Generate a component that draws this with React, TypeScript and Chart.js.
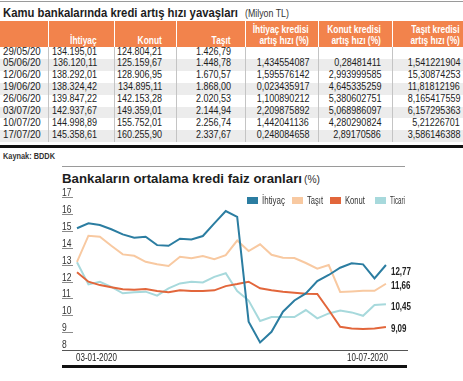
import React, { useEffect, useRef } from "react";
import { Chart, registerables } from "chart.js";
Chart.register(...registerables);

if (typeof document !== "undefined") {
  document.body.style.margin = "0";
}

const FONT = '"Liberation Sans", Arial, sans-serif';

// ---------- Table data ----------
const tableTitle = "Kamu bankalarında kredi artış hızı yavaşları";
const tableUnit = "(Milyon TL)";
const tableHeaders = [
  [""],
  ["İhtiyaç"],
  ["Konut"],
  ["Taşıt"],
  ["İhtiyaç kredisi", "artış hızı (%)"],
  ["Konut kredisi", "artış hızı (%)"],
  ["Taşıt kredisi", "artış hızı (%)"],
];
const tableDates = ["29/05/20", "05/06/20", "12/06/20", "19/06/20", "26/06/20", "03/07/20", "10/07/20", "17/07/20"];
const ihtiyacStock = ["134.195,01", "136.120,11", "138.292,01", "138.324,42", "139.847,22", "142.937,67", "144.998,89", "145.358,61"];
const konutStock = ["124.804,21", "125.159,67", "128.906,95", "134.895,11", "142.153,28", "149.359,01", "155.752,01", "160.255,90"];
const tasitStock = ["1.426,79", "1.448,78", "1.670,57", "1.868,00", "2.020,53", "2.144,94", "2.256,74", "2.337,67"];
const ihtiyacGrowth = ["", "1,434554087", "1,595576142", "0,023435917", "1,100890212", "2,209875892", "1,442041136", "0,248084658"];
const konutGrowth = ["", "0,28481411", "2,993999585", "4,645335259", "5,380602751", "5,068986097", "4,280290824", "2,89170586"];
const tasitGrowth = ["", "1,541221904", "15,30874253", "11,81812196", "8,165417559", "6,157295363", "5,21226701", "3,586146388"];
const sourceText = "Kaynak: BDDK";

// ---------- Chart data ----------
const chartTitle = "Bankaların ortalama kredi faiz oranları";
const chartUnit = "(%)";
const weeks = [
  "03-01-2020", "10-01-2020", "17-01-2020", "24-01-2020", "31-01-2020", "07-02-2020", "14-02-2020",
  "21-02-2020", "28-02-2020", "06-03-2020", "13-03-2020", "20-03-2020", "27-03-2020", "03-04-2020",
  "10-04-2020", "17-04-2020", "24-04-2020", "01-05-2020", "08-05-2020", "15-05-2020", "22-05-2020",
  "29-05-2020", "05-06-2020", "12-06-2020", "19-06-2020", "26-06-2020", "03-07-2020", "10-07-2020",
];
const ihtiyacRate = [14.95, 15.24, 15.14, 14.89, 14.59, 14.39, 14.45, 13.95, 13.91, 14.33, 14.29, 14.49, 15.24, 15.97, 15.63, 9.41, 8.18, 8.81, 10.0, 10.67, 11.09, 11.82, 12.18, 12.61, 12.87, 12.81, 11.98, 12.77];
const tasitRate = [12.96, 14.51, 14.45, 13.91, 13.4, 13.32, 12.96, 12.81, 12.71, 13.26, 13.17, 13.3, 13.12, 13.36, 14.22, 13.6, 14.0, 13.38, 13.2, 13.18, 12.89, 12.55, 12.77, 11.17, 11.2, 11.24, 11.24, 11.66];
const konutRate = [12.34, 11.78, 11.58, 11.45, 11.33, 11.3, 11.35, 11.23, 11.15, 11.27, 11.23, 11.23, 11.27, 11.52, 11.64, 11.78, 11.39, 11.27, 11.19, 11.13, 11.07, 11.05, 10.1, 9.11, 9.01, 8.97, 9.01, 9.09];
const ticariRate = [12.93, 11.62, 11.78, 11.48, 11.09, 11.15, 11.19, 10.95, 11.39, 11.68, 11.78, 11.74, 12.07, 12.28, 11.23, 10.66, 9.45, 9.68, 9.68, 9.68, 10.1, 9.61, 9.9, 10.07, 9.96, 9.76, 10.4, 10.45];
const seriesNames = ["İhtiyaç", "Taşıt", "Konut", "Ticari"];
const seriesValues = [ihtiyacRate, tasitRate, konutRate, ticariRate];
const seriesColors = ["#2B7DA1", "#F8C9A1", "#E2663B", "#A7D9DC"];
const yTickValues = [8, 9, 10, 11, 12, 13, 14, 15, 16, 17];

// ---------- Layout constants ----------
const W = 463;
const COL_EDGES = [0, 48, 114, 176, 245, 318, 392, 463];
const COL_TEXT_RIGHT = [3, 97, 162, 231, 309, 381, 460];
const HEADER_TOP = 21;
const HEADER_H = 26;
const ROW_TOP = 47;
const ROW_H = 11.9;
const LABEL_SHIFT = 0.27;
const END_LABEL_DY = [7, 2.5, 2, 3];
const ORANGE = "#F2834C";
const LEGEND_LEFT = [247, 292, 330, 375];
const LEGEND_TEXT_W = [23, 16, 20, 15];

let measureCtx: CanvasRenderingContext2D | null = null;
function measure(text: string, size: number, bold: boolean) {
  if (!measureCtx) measureCtx = document.createElement("canvas").getContext("2d");
  measureCtx!.font = `${bold ? "bold " : ""}${size}px ${FONT}`;
  return measureCtx!.measureText(text).width || 1;
}

type TxtProps = {
  text: string;
  x: number;
  base: number;
  size: number;
  bold?: boolean;
  align?: "left" | "right";
  width?: number;
  scale?: number;
  color?: string;
};
function Txt({ text, x, base, size, bold = false, align = "left", width, scale, color = "#1d1d1d" }: TxtProps) {
  if (!text) return null;
  const s = width ? width / measure(text, size, bold) : scale ?? 1;
  const style: any = {
    position: "absolute",
    top: base - 0.8465 * size,
    fontSize: size,
    lineHeight: size + "px",
    fontWeight: bold ? 700 : 400,
    color,
    whiteSpace: "nowrap",
    transform: `scaleX(${s})`,
    transformOrigin: align === "left" ? "left center" : "right center",
  };
  if (align === "left") style.left = x;
  else style.right = W - x;
  return <div style={style}>{text}</div>;
}

function drawScaled(ctx: CanvasRenderingContext2D, text: string, x: number, y: number, sx: number, align: "left" | "right") {
  ctx.save();
  ctx.translate(x, y);
  ctx.scale(sx, 1);
  ctx.textAlign = align;
  ctx.fillText(text, 0, 0);
  ctx.restore();
}

const overlayPlugin = {
  id: "overlay",
  afterDatasetsDraw(chart: any) {
    const ctx = chart.ctx as CanvasRenderingContext2D;
    const y = chart.scales.y;
    const x = chart.scales.x;
    const area = chart.chartArea;
    ctx.save();
    // y tick labels with short underlines
    ctx.font = `10px ${FONT}`;
    ctx.fillStyle = "#333";
    ctx.strokeStyle = "#8a8a8a";
    ctx.lineWidth = 1;
    ctx.textBaseline = "alphabetic";
    yTickValues.forEach((v) => {
      const py = Math.round(y.getPixelForValue(v - LABEL_SHIFT)) - 0.5;
      if (v !== yTickValues[0]) {
        ctx.beginPath();
        ctx.moveTo(area.left, py);
        ctx.lineTo(area.left + 11, py);
        ctx.stroke();
      }
      drawScaled(ctx, String(v), area.left, py - 1.5, 0.85, "left");
    });
    // x tick labels: first and last
    ctx.fillStyle = "#222";
    const first = 0;
    const last = weeks.length - 1;
    drawScaled(ctx, weeks[first], x.getPixelForValue(first) - 1, area.bottom + 10.5, 0.8, "left");
    drawScaled(ctx, weeks[last], x.getPixelForValue(last) + 2, area.bottom + 10.5, 0.8, "right");
    // end value labels
    ctx.font = `bold 10px ${FONT}`;
    ctx.fillStyle = "#222";
    ctx.textBaseline = "middle";
    chart.data.datasets.forEach((ds: any, i: number) => {
      const meta = chart.getDatasetMeta(i);
      const pt = meta.data[meta.data.length - 1];
      const val = ds.data[ds.data.length - 1].y;
      drawScaled(ctx, val.toFixed(2).replace(".", ","), pt.x + 5, pt.y + END_LABEL_DY[i], 0.8, "left");
    });
    ctx.restore();
  },
};

function ChartPart() {
  const ref = useRef<HTMLCanvasElement | null>(null);
  useEffect(() => {
    if (!ref.current) return;
    const chart = new Chart(ref.current, {
      type: "line",
      data: {
        datasets: seriesNames.map((name, si) => ({
          label: name,
          data: seriesValues[si].map((v, i) => ({ x: i, y: v })),
          borderColor: seriesColors[si],
          backgroundColor: seriesColors[si],
          borderWidth: 2,
          pointRadius: 0,
          tension: 0,
          fill: false,
        })),
      },
      options: {
        animation: false,
        responsive: false,
        devicePixelRatio: 1,
        layout: { padding: { left: 62, right: 56, top: 5, bottom: 0 } },
        plugins: { legend: { display: false }, tooltip: { enabled: false } },
        scales: {
          x: {
            type: "linear",
            min: -1.31,
            max: 28.84,
            grid: { display: false, drawTicks: false },
            border: { display: true, color: "#555", width: 1 },
            ticks: { display: false },
            afterFit: (scale: any) => {
              scale.height = 31;
            },
          },
          y: {
            display: false,
            min: 8 - LABEL_SHIFT,
            max: 8 - LABEL_SHIFT + 160 / 16.86,
          },
        },
      },
      plugins: [overlayPlugin],
    } as any);
    return () => chart.destroy();
  }, []);
  return (
    <canvas
      ref={ref}
      width={463}
      height={196}
      style={{ position: "absolute", left: 0, top: 185, width: 463, height: 196 }}
    />
  );
}

export default function App() {
  const rows = tableDates.map((d, i) => [d, ihtiyacStock[i], konutStock[i], tasitStock[i], ihtiyacGrowth[i], konutGrowth[i], tasitGrowth[i]]);
  return (
    <div style={{ position: "relative", width: W, height: 381, background: "#fff", overflow: "hidden", fontFamily: FONT, color: "#222" }}>
      {/* top rule */}
      <div style={{ position: "absolute", left: 0, top: 1, width: W, height: 1, background: "#9a9a9a" }} />
      <Txt text={tableTitle} x={3} base={17.5} size={13} bold width={235} />
      <Txt text={tableUnit} x={245} base={17.5} size={10} width={44} color="#333" />
      {/* header band */}
      <div style={{ position: "absolute", left: 0, top: HEADER_TOP, width: W, height: HEADER_H, background: ORANGE }} />
      {COL_EDGES.slice(1, -1).map((x, i) => (
        <div key={"hs" + i} style={{ position: "absolute", left: x, top: HEADER_TOP, width: 1, height: HEADER_H, background: "#fff" }} />
      ))}
      {tableHeaders.map((lines, ci) =>
        lines.map((t, li) => (
          <Txt
            key={"h" + ci + "-" + li}
            text={t}
            x={COL_TEXT_RIGHT[ci]}
            base={lines.length === 2 ? 33 + li * 11.5 : 44.5}
            size={10}
            bold
            align="right"
            scale={0.84}
            color="#fff"
          />
        ))
      )}
      {/* body rows */}
      {rows.map((r, ri) => (
        <div key={"rb" + ri} style={{ position: "absolute", left: 0, top: ROW_TOP + ri * ROW_H, width: W, height: ROW_H, background: ri % 2 === 1 ? "#ececec" : "#fff" }} />
      ))}
      {COL_EDGES.slice(1, -1).map((x, i) => (
        <div key={"bs" + i} style={{ position: "absolute", left: x, top: ROW_TOP, width: 1, height: ROW_H * rows.length, background: "#c4c4c4" }} />
      ))}
      {rows.map((r, ri) =>
        r.map((cell, ci) => (
          <Txt
            key={"c" + ri + "-" + ci}
            text={cell}
            x={COL_TEXT_RIGHT[ci]}
            base={ROW_TOP + 8 + ri * ROW_H}
            size={10}
            align={ci === 0 ? "left" : "right"}
            scale={ci === 0 ? 0.97 : 0.9}
          />
        ))
      )}
      <div style={{ position: "absolute", left: 0, top: 145, width: W, height: 3, background: "#111" }} />
      <Txt text={sourceText} x={3} base={160} size={9} bold width={52} color="#333" />
      {/* chart section */}
      <div style={{ position: "absolute", left: 62, top: 166, width: 343, height: 1, background: "#9a9a9a" }} />
      <Txt text={chartTitle} x={62} base={183.5} size={13.5} bold width={240} />
      <Txt text={chartUnit} x={304} base={183.5} size={11} width={16} color="#333" />
      <ChartPart />
      {/* legend */}
      {seriesNames.map((n, i) => (
        <React.Fragment key={"lg" + i}>
          <div style={{ position: "absolute", left: LEGEND_LEFT[i], top: 197, width: 11, height: 7, background: seriesColors[i] }} />
          <Txt text={n} x={LEGEND_LEFT[i] + 15} base={204} size={10} width={LEGEND_TEXT_W[i]} color="#333" />
        </React.Fragment>
      ))}
      <div style={{ position: "absolute", left: 62, top: 365, width: 345, height: 3, background: "#111" }} />
    </div>
  );
}
